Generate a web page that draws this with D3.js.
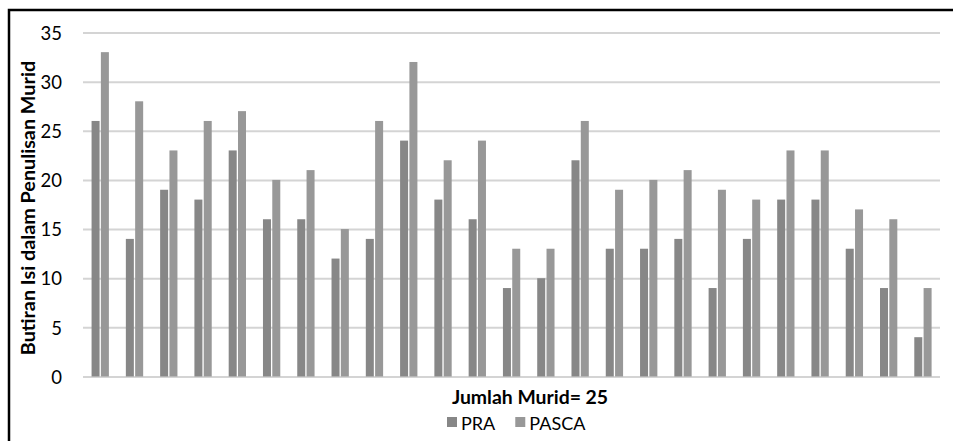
<!DOCTYPE html>
<html><head><meta charset="utf-8">
<script src="https://cdn.jsdelivr.net/npm/d3@7"></script>
<style>body{margin:0;background:#fff;} svg{display:block;}</style>
</head><body>
<script>
const students = d3.range(1, 26).map(String);
const seriesNames = ["PRA", "PASCA"];
const pra   = [26,14,19,18,23,16,16,12,14,24,18,16,9,10,22,13,13,14,9,14,18,18,13,9,4];
const pasca = [33,28,23,26,27,20,21,15,26,32,22,24,13,13,26,19,20,21,19,18,23,23,17,16,9];
const yTicks = [0,5,10,15,20,25,30,35];
const colors = {PRA:"#878787", PASCA:"#989898"};

(function(){
const W = 953, H = 441;
const svg = d3.select("body").append("svg").attr("width", W).attr("height", H);
const font = "Lato, 'Open Sans', sans-serif";

svg.append("rect").attr("x", 9).attr("y", 10).attr("width", 1000).attr("height", 500)
  .attr("fill", "none").attr("stroke", "#000").attr("stroke-width", 2.5);

const pL = 83, pR = 940, pT = 32.5, pB = 376.5;
const y = d3.scaleLinear().domain([0, 35]).range([pB, pT]);
const x0 = d3.scaleBand().domain(students).range([pL, pR]).padding(0);
const bw = x0.bandwidth();
const x1 = d3.scaleBand().domain(seriesNames).range([bw*0.25, bw*0.755]).paddingInner(0.14);

const yAxis = d3.axisLeft(y).tickValues(yTicks).tickSize(-(pR-pL)).tickPadding(21);
const gy = svg.append("g").attr("transform", `translate(${pL},0)`).call(yAxis);
gy.select(".domain").remove();
gy.selectAll(".tick line").attr("stroke", "#d4d4d4").attr("stroke-width", 2);
gy.selectAll(".tick text").attr("font-family", font).attr("font-size", 18.5).attr("fill", "#000")
  .attr("dy", "0.36em");

const data = students.map((s,i)=>({s, PRA: pra[i], PASCA: pasca[i]}));
const g = svg.append("g");
g.selectAll("g.grp").data(data).join("g").attr("class","grp")
  .attr("transform", d => `translate(${x0(d.s)},0)`)
  .selectAll("rect").data(d => seriesNames.map(k => ({k, v: d[k]})))
  .join("rect")
  .attr("x", d => x1(d.k)).attr("width", x1.bandwidth())
  .attr("y", d => y(d.v)).attr("height", d => y(0) - y(d.v))
  .attr("fill", d => colors[d.k]);

svg.append("text").attr("transform", `translate(35,208) rotate(-90)`)
  .attr("text-anchor","middle").attr("font-family", font).attr("font-weight","bold")
  .attr("font-size", 19.8).text("Butiran Isi dalam Penulisan Murid");
svg.append("text").attr("x", 530).attr("y", 404).attr("text-anchor","middle")
  .attr("font-family", font).attr("font-weight","bold").attr("font-size", 19.4).text("Jumlah Murid= 25");

const lg = svg.append("g").attr("transform","translate(447,0)");
let lx = 0;
seriesNames.forEach(n => {
  lg.append("rect").attr("x", lx).attr("y", 417).attr("width", 10).attr("height", 10).attr("fill", colors[n]);
  const t = lg.append("text").attr("x", lx+14).attr("y", 430).attr("font-family", font)
    .attr("font-size", 18).text(n);
  lx += 14 + t.node().getComputedTextLength() + 20;
});
})();
</script>
</body></html>
